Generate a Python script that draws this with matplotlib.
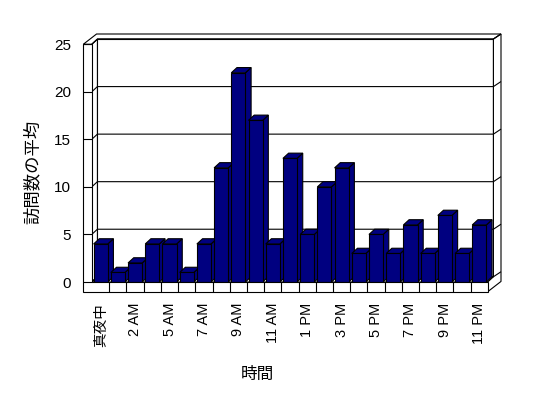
import matplotlib
matplotlib.use("Agg")
import matplotlib.pyplot as plt
from matplotlib import font_manager
from matplotlib.patches import Polygon

# hourly averages
hours = ["真夜中", "1 AM", "2 AM", "3 AM", "5 AM", "6 AM", "7 AM", "8 AM",
         "9 AM", "10 AM", "11 AM", "12 PM", "1 PM", "2 PM", "3 PM", "4 PM",
         "5 PM", "6 PM", "7 PM", "8 PM", "9 PM", "10 PM", "11 PM"]
visits = [4, 1, 2, 4, 4, 1, 4, 12, 22, 17, 4, 13, 5, 10, 12, 3, 5, 3, 6, 3, 7, 3, 6]
yticks = [0, 5, 10, 15, 20, 25]

navy = "#000080"
lw = 0.8
n = len(hours)
top = yticks[-1]

# pseudo 3d box (data units)
x0, xl, xr = -1.01, -0.52, n - 0.51
yb = -1.02
d1 = (0.33, 0.55)   # floor depth
d2 = (0.44, 0.53)   # wall thickness
bw = 0.82

names = {f.name for f in font_manager.fontManager.ttflist}
narrow = "Liberation Sans Narrow" if "Liberation Sans Narrow" in names else "Liberation Sans"

fig = plt.figure(figsize=(5.48, 3.98), dpi=100)
W, H = 548, 398
ax = fig.add_axes([83.3 / W, (H - 291.7) / H, (501 - 83.3) / W, (291.7 - 34) / H])
ax.set_xlim(x0, xr + d1[0] + d2[0])
ax.set_ylim(yb, top + d1[1] + d2[1])
for s in ax.spines.values():
    s.set_visible(False)

def poly(pts, z, fc="white"):
    ax.add_patch(Polygon(pts, closed=True, fc=fc, ec="black", lw=lw,
                         zorder=z, clip_on=False, joinstyle="miter"))

def line(xs, ys, z):
    ax.plot(xs, ys, color="black", lw=lw, zorder=z, clip_on=False,
            solid_capstyle="butt")

bx0, bx1 = xl + d1[0], xr + d1[0]
# back wall
poly([(bx0, d1[1]), (bx1, d1[1]), (bx1, top + d1[1]), (bx0, top + d1[1])], 1)
# left wall inner side
poly([(xl, 0), (bx0, d1[1]), (bx0, top + d1[1]), (xl, top)], 1)
# floor top
poly([(xl, 0), (xr, 0), (bx1, d1[1]), (bx0, d1[1])], 1)
# top strip
poly([(x0, top), (xl, top), (bx0, top + d1[1]), (bx1, top + d1[1]),
      (bx1 + d2[0], top + d1[1] + d2[1]), (x0 + d1[0] + d2[0], top + d1[1] + d2[1])], 1)
# right strip
poly([(xr, yb), (xr, 0), (bx1, d1[1]), (bx1, top + d1[1]),
      (bx1 + d2[0], top + d1[1] + d2[1]), (bx1 + d2[0], yb + d1[1] + d2[1])], 1)

# gridlines
for v in yticks:
    line([xl, bx0, bx1, bx1 + d2[0]],
         [v, v + d1[1], v + d1[1], v + d1[1] + d2[1]], 1.5)

# bars
bars = ax.bar(range(n), visits, width=bw, color=navy, edgecolor="black", lw=lw)
for i, (rect, v) in enumerate(zip(bars, visits)):
    a, b = i - bw / 2, i + bw / 2
    z = 3 + i * 0.1
    poly([(b, 0), (b + d1[0], d1[1]), (b + d1[0], v + d1[1]), (b, v)], z, navy)
    poly([(a, v), (b, v), (b + d1[0], v + d1[1]), (a + d1[0], v + d1[1])], z + 0.01, navy)
    rect.set_zorder(z + 0.02)

# front face of wall and floor
poly([(x0, yb), (xr, yb), (xr, 0), (xl, 0), (xl, top), (x0, top)], 10)
for i in range(n - 1):
    line([i + 0.5, i + 0.5], [yb, 0], 11)
for v in yticks:
    line([x0, xl], [v, v], 11)

ax.set_yticks(yticks)
ax.set_yticklabels([str(v) for v in yticks], family="Liberation Sans", fontsize=11)
ax.tick_params(axis="y", length=0, pad=8.9)

ax.set_xticks(range(0, n, 2))
ax.set_xticklabels(hours[::2], rotation=90, fontsize=10.5,
                   family=[narrow, "Noto Sans CJK JP"])
ax.tick_params(axis="x", length=0, pad=8)

ax.set_xlabel("時間", family="Noto Sans CJK JP", fontsize=12)
ax.xaxis.set_label_coords(0.4165, -0.323)
ax.xaxis.label.set_va("center")
ax.set_ylabel("訪問数の平均", family="Noto Sans CJK JP", fontsize=12.5)
ax.yaxis.set_label_coords(-0.122, 0.4645)
ax.yaxis.label.set_va("center")

fig.savefig("out.png", dpi=100)
